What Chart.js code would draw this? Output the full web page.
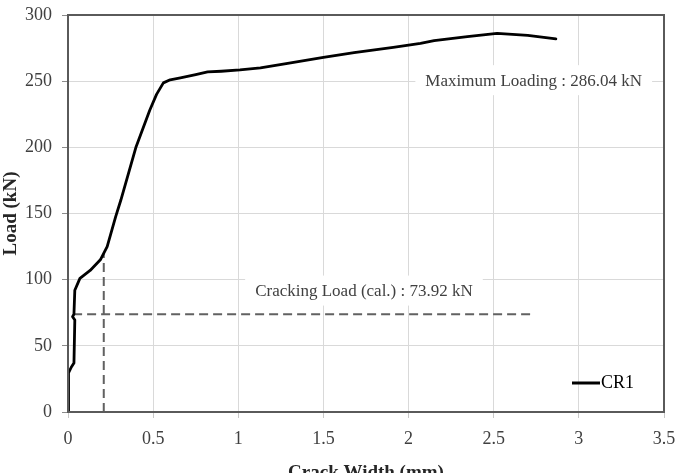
<!DOCTYPE html>
<html>
<head>
<meta charset="utf-8">
<script src="https://cdn.jsdelivr.net/npm/chart.js@4/dist/chart.umd.min.js"></script>
<style>
  html, body { margin: 0; padding: 0; background: #fff; }
  #wrap { width: 676px; height: 473px; }
</style>
</head>
<body>
<div id="wrap"><canvas id="myChart" width="676" height="473"></canvas></div>
<script>
// data
const crackWidth = [0, 0.002, 0.004, 0.02, 0.035, 0.04, 0.027, 0.035, 0.04, 0.07, 0.1, 0.13, 0.19, 0.23, 0.28, 0.31, 0.40, 0.48, 0.52, 0.56, 0.6, 0.66, 0.75, 0.82, 0.9, 1.01, 1.13, 1.29, 1.5, 1.68, 1.91, 2.07, 2.15, 2.345, 2.52, 2.7, 2.865];
const load = [0, 15, 29.5, 34, 37, 69.5, 72, 74, 92, 101, 104, 107, 115, 125, 147.6, 160, 200.5, 228, 240, 248.7, 251, 252.5, 255, 257, 257.5, 258.5, 260, 263.5, 268, 271.6, 275.6, 278.6, 280.7, 283.7, 286.04, 284.6, 282];

const crackingLoad = 73.92;
const crackingLine = [0.03, 2.73];   // x extent of horizontal dashed line
const crackingWidth = 0.21;          // x of vertical dashed line
const crackingTop = 120;             // where vertical dashed line stops
const maxLoad = 286.04;

const seriesName = "CR1";
const xTitle = "Crack Width (mm)";
const yTitle = "Load (kN)";
const maxLabel = "Maximum Loading : " + maxLoad.toFixed(2) + " kN";
const crackLabel = "Cracking Load (cal.) : " + crackingLoad.toFixed(2) + " kN";
// label anchors in data units
const maxLabelAt = [2.735, 250];
const crackLabelAt = [1.738, 91];

const serif = "'Liberation Serif', 'Times New Roman', serif";

const points = crackWidth.map((x, i) => ({ x: x, y: load[i] }));

// text boxes with white background (cover the gridlines)
const notes = {
  id: "notes",
  beforeDatasetsDraw(chart) {
    const ctx = chart.ctx;
    const xs = chart.scales.x, ys = chart.scales.y;
    ctx.save();
    ctx.font = "17px " + serif;
    ctx.textAlign = "center";
    ctx.textBaseline = "middle";
    [[maxLabel, maxLabelAt], [crackLabel, crackLabelAt]].forEach(([txt, at]) => {
      const px = xs.getPixelForValue(at[0]);
      const py = ys.getPixelForValue(at[1]);
      const w = ctx.measureText(txt).width + 20;
      ctx.fillStyle = "#fff";
      ctx.fillRect(px - w / 2, py - 16, w, 30);
      ctx.fillStyle = "#404040";
      ctx.fillText(txt, px, py);
    });
    ctx.restore();
  },
  afterDraw(chart) {
    const ctx = chart.ctx;
    const a = chart.chartArea;
    ctx.save();
    // plot frame
    ctx.strokeStyle = "#5a5a5a";
    ctx.lineWidth = 2;
    ctx.strokeRect(a.left, a.top, a.right - a.left, a.bottom - a.top);
    // legend inside bottom right
    const ly = a.bottom - 29;
    const lx = a.right - 92;
    ctx.strokeStyle = "#000";
    ctx.lineWidth = 3;
    ctx.beginPath();
    ctx.moveTo(lx, ly);
    ctx.lineTo(lx + 28, ly);
    ctx.stroke();
    ctx.fillStyle = "#000";
    ctx.font = "18px " + serif;
    ctx.textBaseline = "middle";
    ctx.fillText(seriesName, lx + 29, ly);
    ctx.restore();
  }
};

const config = {
  type: "scatter",
  data: {
    datasets: [
      {
        label: seriesName,
        data: points,
        showLine: true,
        borderColor: "#000",
        borderWidth: 2.8,
        pointRadius: 0,
        borderJoinStyle: "round",
        borderCapStyle: "round",
      },
      {
        label: "cracking",
        data: [{ x: crackingLine[0], y: crackingLoad }, { x: crackingLine[1], y: crackingLoad }],
        showLine: true,
        borderColor: "#616161",
        borderWidth: 2,
        borderDash: [9, 5],
        pointRadius: 0,
      },
      {
        label: "crackingWidth",
        data: [{ x: crackingWidth, y: 0 }, { x: crackingWidth, y: crackingTop }],
        showLine: true,
        borderColor: "#616161",
        borderWidth: 2,
        borderDash: [9, 5],
        pointRadius: 0,
      },
    ],
  },
  options: {
    responsive: false,
    animation: false,
    devicePixelRatio: 1,
    layout: { padding: { top: 15, right: 12, left: 0, bottom: 0 } },
    plugins: {
      legend: { display: false },
      tooltip: { enabled: false },
    },
    scales: {
      x: {
        type: "linear",
        min: 0,
        max: 3.5,
        afterFit(scale) {
          scale.height = 61;
          scale.paddingLeft = 0;
          scale.paddingRight = 0;
        },
        grid: { color: "#d9d9d9", tickLength: 6, tickColor: "#c8c8c8" },
        border: { display: false },
        ticks: {
          stepSize: 0.5, padding: 10, color: "#404040", font: { family: serif, size: 18 },
          callback: (v) => `${v}`,
        },
        title: { display: true, text: xTitle, color: "#262626", padding: { top: 0, bottom: -11 }, font: { family: serif, size: 19, weight: "bold" } },
      },
      y: {
        min: 0,
        max: 300,
        afterFit(scale) {
          scale.width = 68;
          scale.paddingTop = 0;
          scale.paddingBottom = 0;
        },
        grid: { color: "#d9d9d9", tickLength: 6, tickColor: "#8c8c8c" },
        border: { display: false },
        ticks: { stepSize: 50, padding: 10, color: "#404040", font: { family: serif, size: 18 } },
        title: { display: true, text: yTitle, color: "#262626", padding: 0, font: { family: serif, size: 19, weight: "bold" } },
      },
    },
  },
  plugins: [notes],
};

const myChart = new Chart(document.getElementById("myChart"), config);
</script>
</body>
</html>
